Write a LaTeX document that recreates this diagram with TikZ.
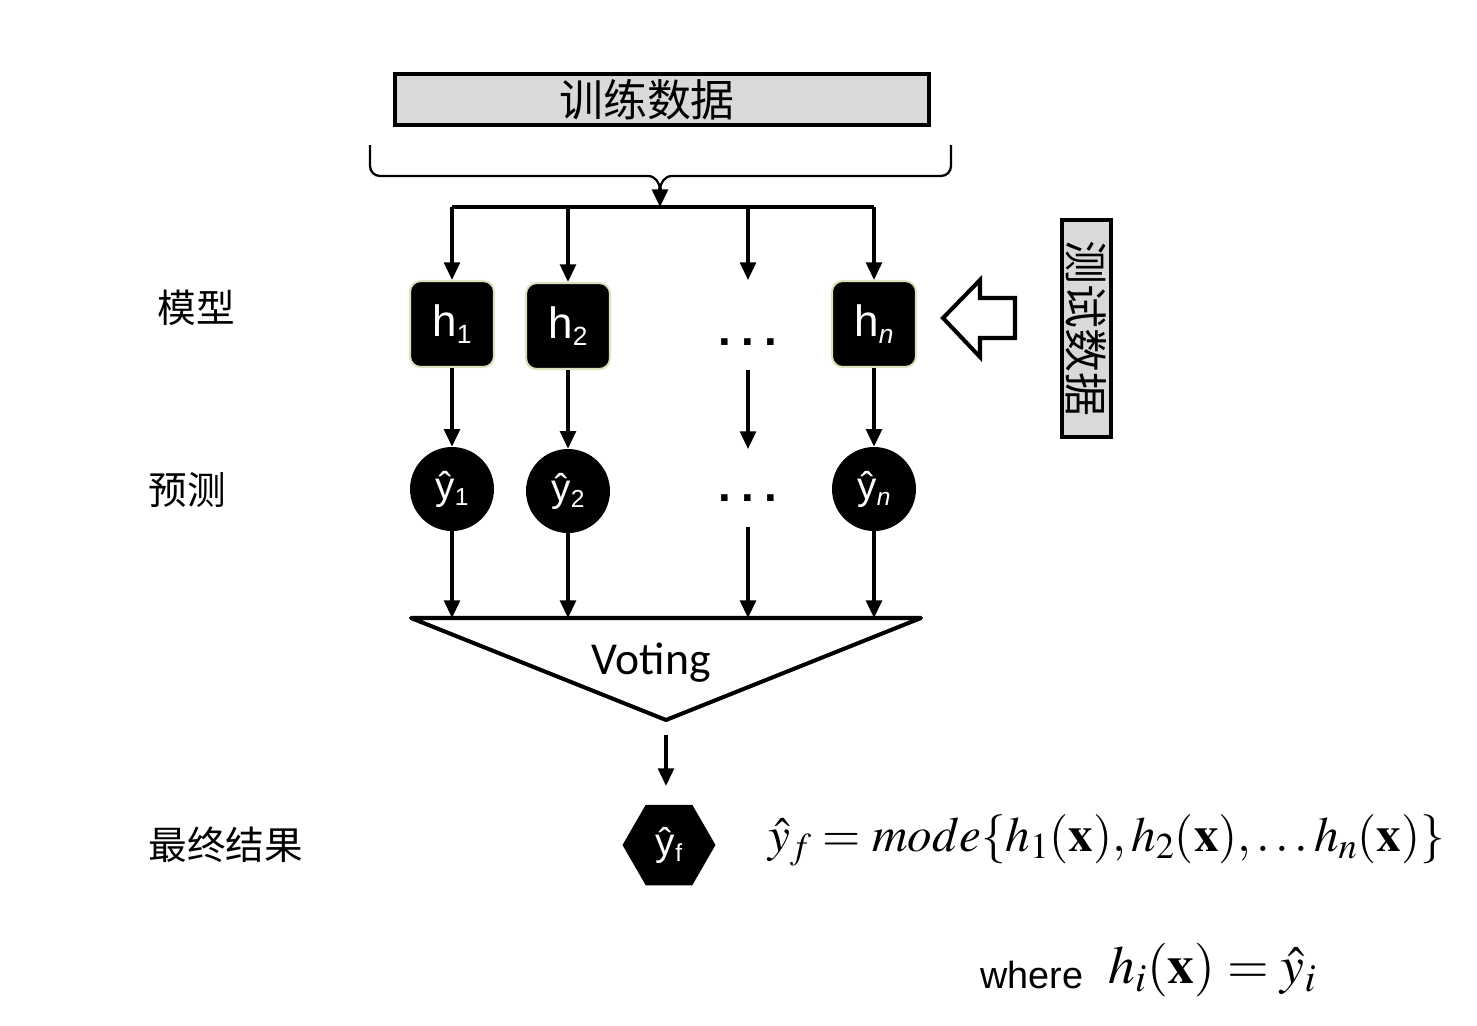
\documentclass[tikz,border=0pt]{standalone}
\usepackage{mathptmx}
\usepackage[no-math]{fontspec}
\setmainfont{Liberation Serif}
\newfontfamily\cjk{Noto Sans CJK SC}
\newfontfamily\arial{Liberation Sans}
\newfontfamily\calibri{Carlito}
\usetikzlibrary{arrows.meta,shapes.geometric}
\definecolor{boxgray}{HTML}{D9D9D9}
\definecolor{mborder}{HTML}{D7E4BD}
\newcommand{\lsub}[2][15]{\raisebox{-0.3ex}{\fontsize{#1}{#1}\selectfont #2}}
\tikzset{
	arr/.style={line width=1.8pt, -{Triangle[length=10pt,width=9pt]}},
	modelbox/.style={rounded corners=6pt, fill=black, draw=mborder, line width=1.2pt, minimum width=1.68cm, minimum height=1.72cm, text=white, font=\arial\fontsize{25}{25}\selectfont},
	predcirc/.style={circle, fill=black, minimum size=1.68cm, inner sep=0pt, text=white, font=\arial\fontsize{22}{22}\selectfont},
	graybox/.style={draw, line width=2.3pt, fill=boxgray, inner sep=0pt, font=\cjk\fontsize{25}{25}\selectfont},
	cnlabel/.style={anchor=west, inner sep=0pt, font=\cjk\fontsize{22}{22}\selectfont},
	dotrow/.style={inner sep=0pt, font=\arial\bfseries\fontsize{26}{26}\selectfont},
}

\begin{document}
\begin{tikzpicture}[x=0.02cm, y=-0.02cm]
		%%%%% START %%%%%
		\useasboundingbox (0,0) rectangle (1477,1025);
		
		\node[graybox, minimum width=10.7cm, minimum height=1.02cm] (train) at (662,99.5) {\hspace*{-0.6cm}训练数据};
		\node[graybox, rotate=-90, minimum width=4.34cm, minimum height=0.98cm] (test) at (1086.5,328.5) {测试数据};
		
		\node[cnlabel] (lblmodel) at (157,308) {模型};
		\node[cnlabel] (lblpred) at (148,490) {预测};
		\node[cnlabel] (lblfinal) at (148,845) {最终结果};
		
		% brace under the training data
		\coordinate (split) at (660,207);
		\draw[line width=1.3pt] (370,145) -- (370,166) to[out=-90,in=180] (380,176) -- (648,176) to[out=0,in=90] (660,190);
		\draw[line width=1.3pt] (951,145) -- (951,166) to[out=-90,in=0] (941,176) -- (672,176) to[out=180,in=90] (660,190);
		\draw[arr] (660,188) -- (split);
		
		\node[modelbox] (h1) at (452,324) {h\lsub{1}};
		\node[modelbox] (h2) at (568,326) {h\lsub{2}};
		\node[modelbox] (hn) at (874,324) {h\lsub{\itshape n}};
		
		\node[predcirc] (yh1) at (452,489) {ŷ\lsub[14]{1}};
		\node[predcirc] (yh2) at (568,491) {ŷ\lsub[14]{2}};
		\node[predcirc] (yhn) at (874,489) {ŷ\lsub[14]{\itshape n}};
		
		\node[dotrow] (dots1) at (748,342) {.\hspace{5.8pt}.\hspace{5.8pt}.};
		\node[dotrow] (dots2) at (748,498) {.\hspace{5.8pt}.\hspace{5.8pt}.};
		
		\draw[line width=2.2pt] (h1|-split) -- (hn|-split);
		\coordinate (m0) at (748,280);
		\draw[arr] (h1|-split) -- (h1);
		\draw[arr] (h2|-split) -- (h2);
		\draw[arr] (m0|-split) -- (m0);
		\draw[arr] (hn|-split) -- (hn);
		
		\coordinate (m1) at (748,370);
		\coordinate (m2) at (748,449);
		\coordinate (m3) at (748,527);
		\draw[arr] (h1) -- (yh1);
		\draw[arr] (h2) -- (yh2);
		\draw[arr] (m1) -- (m2);
		\draw[arr] (hn) -- (yhn);
		
		% voting
		\coordinate (vl) at (411,618);
		\coordinate (vr) at (921,618);
		\coordinate (vb) at (666,720);
		\draw[line width=2.3pt, line join=round] (vl) -- (vr) -- (vb) -- cycle;
		\node[font=\calibri\fontsize{26}{26}\selectfont] (voting) at (651,663) {Voting};
		\draw[arr] (yh1) -- (yh1|-vl);
		\draw[arr] (yh2) -- (yh2|-vl);
		\draw[arr] (m3) -- (m3|-vl);
		\draw[arr] (yhn) -- (yhn|-vl);
		
		\node[regular polygon, regular polygon sides=6, minimum size=1.86cm, inner sep=0pt, fill=black, text=white, font=\arial\fontsize{22}{22}\selectfont] (yf) at (669,845) {ŷ\lsub[14]{f}};
		\draw[arr, shorten <=8.5pt, shorten >=10.5pt] (vb) -- (vb|-yf.north);
		
		% test data arrow
		\draw[line width=2.3pt] (943,318) -- (980,280) -- (980,298) -- (1015,298) -- (1015,338) -- (980,338) -- (980,357) -- cycle;
		
		\node[anchor=base west, inner sep=0pt, font=\fontsize{28}{28}\selectfont] (formula) at (768,851) {$\hat{y}_f = mode\{h_1(\mathbf{x}), h_2(\mathbf{x}), \ldots h_n(\mathbf{x})\}$};
		\node[anchor=base west, inner sep=0pt, font=\arial\fontsize{21.5}{21.5}\selectfont] (where) at (980,988) {where};
		\node[anchor=base west, inner sep=0pt, font=\fontsize{30.5}{30.5}\selectfont] (hdef) at (1108,983) {$h_i(\mathbf{x}) = \hat{y}_i$};
		
		%%%%% END %%%%%
\end{tikzpicture}
\end{document}
